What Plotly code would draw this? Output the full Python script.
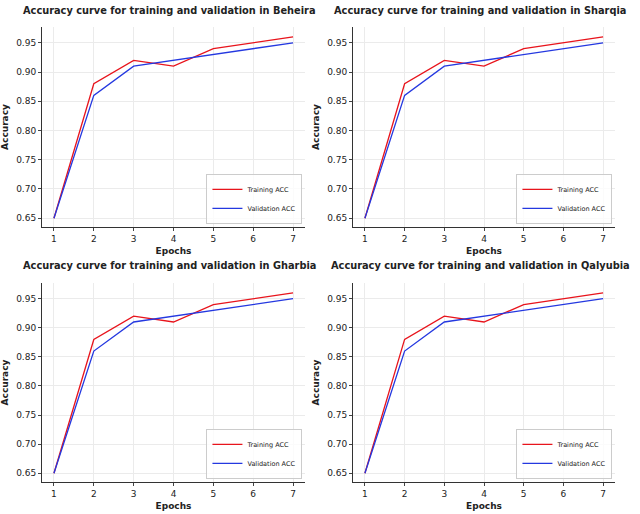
import plotly.graph_objects as go

epochs = [1, 2, 3, 4, 5, 6, 7]
train_acc = [0.65, 0.88, 0.92, 0.91, 0.94, 0.95, 0.96]
val_acc = [0.65, 0.86, 0.91, 0.92, 0.93, 0.94, 0.95]
regions = ["Beheira", "Sharqia", "Gharbia", "Qalyubia"]
yticks = [0.65, 0.70, 0.75, 0.80, 0.85, 0.90, 0.95]

W, H = 640, 514
def px(x): return x / W
def py(y): return (H - y) / H
xdoms = [(px(42), px(305)), (px(353), px(615))]
ydoms = [(py(227), py(27)), (py(482), py(283))]
title_y = [py(10), py(266)]

fig = go.Figure()
layout = dict(width=W, height=H, margin=dict(l=0, r=0, t=0, b=0),
              plot_bgcolor="white", paper_bgcolor="white",
              font=dict(family="DejaVu Sans", size=9, color="#222"),
              annotations=[])
for i, reg in enumerate(regions):
    r, c = divmod(i, 2)
    n = "" if i == 0 else str(i + 1)
    lg = "legend" + n
    fig.add_trace(go.Scatter(x=epochs, y=train_acc, mode="lines", name="Training ACC",
                             line=dict(color="#e8141c", width=1.3), xaxis="x"+n, yaxis="y"+n, legend=lg))
    fig.add_trace(go.Scatter(x=epochs, y=val_acc, mode="lines", name="Validation ACC",
                             line=dict(color="#2438e0", width=1.3), xaxis="x"+n, yaxis="y"+n, legend=lg))
    xd, yd = xdoms[c], ydoms[r]
    layout["xaxis"+n] = dict(domain=xd, anchor="y"+n, range=[0.7, 7.3], tickvals=epochs,
                             showgrid=True, gridcolor="#ebebeb", zeroline=False, showline=True,
                             linecolor="#333", ticks="outside", ticklen=3,
                             title=dict(text="<b>Epochs</b>", standoff=4, font=dict(size=9)))
    layout["yaxis"+n] = dict(domain=yd, anchor="x"+n, range=[0.635, 0.977], tickvals=yticks,
                             tickformat=".2f", showgrid=True, gridcolor="#ebebeb", zeroline=False,
                             showline=True, linecolor="#333", ticks="outside", ticklen=3,
                             title=dict(text="<b>Accuracy</b>", standoff=6, font=dict(size=9)))
    layout[lg] = dict(x=xd[1]-0.004, y=yd[0]+0.006, xanchor="right", yanchor="bottom",
                      bgcolor="rgba(255,255,255,0.8)", bordercolor="#ccc", borderwidth=1,
                      font=dict(size=6.5), tracegroupgap=0, itemwidth=30)
    layout["annotations"].append(dict(text="<b>Accuracy curve for training and validation in %s</b>" % reg,
                                      x=(xd[0]+xd[1])/2 - 4/W, y=title_y[r], xref="paper", yref="paper",
                                      xanchor="center", yanchor="middle", showarrow=False,
                                      font=dict(size=9.8)))
fig.update_layout(**layout)
fig.write_html("out.html", config={"displayModeBar": False},
               post_script="document.body.style.margin='0';document.body.style.padding='0';")
